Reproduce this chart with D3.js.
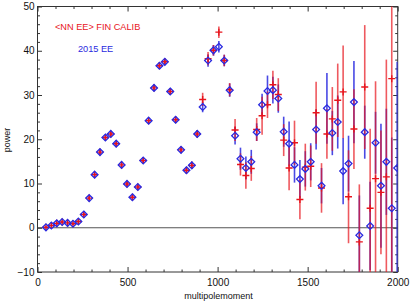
<!DOCTYPE html>
<html>
<head>
<meta charset="utf-8">
<script src="https://cdn.jsdelivr.net/npm/d3@7"></script>
<style>
  body { margin: 0; background: #fff; }
  svg { display: block; font-family: "Liberation Sans", Arial, sans-serif; }
</style>
</head>
<body>
<div id="chart"></div>
<script>
// bin centres (multipole moment)
var ell = [47, 77, 107, 137, 167, 197, 227, 257, 287, 317,
  347, 377, 407, 437, 467, 497, 527, 557, 587, 617,
  647, 677, 707, 737, 767, 797, 827, 857, 887, 917,
  947, 977, 1007, 1037, 1067, 1097, 1127, 1157, 1187, 1217,
  1247, 1277, 1307, 1337, 1367, 1397, 1427, 1457, 1487, 1517,
  1547, 1577, 1607, 1637, 1667, 1697, 1727, 1757, 1787, 1817,
  1847, 1877, 1907, 1937, 1967, 1997];

// 2015 EE (blue)
var blueVal = [0.1, 0.5, 1.0, 1.3, 1.1, 0.9, 1.4, 3.0, 6.7, 12.0,
  17.1, 20.4, 21.2, 19.0, 14.2, 9.9, 6.9, 9.2, 15.2, 24.2,
  31.6, 36.6, 37.5, 30.8, 24.4, 17.6, 13.0, 14.1, 21.2, 27.3,
  37.8, 40.1, 40.9, 37.8, 31.1, 20.8, 15.6, 13.5, 14.9, 21.6,
  27.8, 30.9, 31.1, 29.2, 21.7, 19.0, 14.2, 11.0, 13.3, 14.9,
  22.2, 9.5, 27.0, 21.4, 23.9, 12.8, 14.5, 28.4, -1.7, 21.6,
  0.4, 19.2, 9.5, 14.9, 4.4, 13.5];
var blueErr = [0.2, 0.2, 0.3, 0.3, 0.3, 0.3, 0.3, 0.4, 0.4, 0.5,
  0.5, 0.5, 0.5, 0.5, 0.5, 0.5, 0.5, 0.5, 0.6, 0.6,
  0.7, 0.7, 0.7, 0.7, 0.7, 0.7, 0.7, 0.8, 0.8, 1.2,
  1.4, 1.2, 1.3, 1.3, 1.5, 2.0, 2.5, 2.6, 2.7, 2.0,
  2.5, 3.5, 3.0, 3.2, 3.4, 5.0, 4.0, 4.3, 4.0, 4.2,
  4.5, 4.0, 8.0, 5.0, 6.0, 7.5, 6.3, 9.3, 9.0, 6.0,
  10, 7, 14, 12, 16, 24];

// <NN EE> FIN CALIB (red)
var redVal = [0.1, 0.5, 1.0, 1.3, 1.1, 0.9, 1.4, 3.0, 6.7, 12.0,
  17.1, 20.4, 21.2, 19.0, 14.2, 9.9, 6.9, 9.2, 15.2, 24.2,
  31.6, 36.6, 37.5, 30.8, 24.4, 17.6, 13.0, 14.1, 21.2, 29.0,
  38.2, 40.1, 44.2, 37.8, 31.2, 22.1, 14.3, 11.8, 13.4, 22.2,
  25.3, 27.8, 32.3, 30.1, 19.8, 13.5, 19.2, 6.4, 13.7, 13.9,
  26.0, 9.0, 21.2, 24.6, 28.8, 30.7, 7.0, 22.3, -3.2, 31.8,
  4.4, 11.1, 8.0, 11.5, 33.7, null];
var redErr = [0.2, 0.2, 0.3, 0.3, 0.3, 0.3, 0.3, 0.4, 0.4, 0.5,
  0.5, 0.5, 0.5, 0.5, 0.5, 0.5, 0.5, 0.5, 0.6, 0.6,
  0.7, 0.7, 0.7, 0.7, 0.7, 0.7, 0.7, 0.8, 0.8, 1.5,
  1.5, 1.2, 1.3, 1.3, 1.5, 2.5, 2.5, 3.0, 2.8, 2.6,
  4.3, 3.0, 3.2, 3.7, 3.6, 5.0, 5.0, 4.5, 5.3, 4.7,
  7.0, 5.6, 5.6, 7.2, 8.3, 10.5, 10.5, 9.0, 13, 14,
  18, 22, 14, 26.5, 45, null];

var yTicks = [-10, 0, 10, 20, 30, 40, 50];
var xTicks = [0, 500, 1000, 1500, 2000];

var width = 415, height = 308;
var margin = { top: 6.5, right: 17.3, bottom: 36, left: 37.5 };
var plotW = width - margin.left - margin.right,
  plotH = height - margin.top - margin.bottom;

var red = "#e8141c", blue = "#2a2ae0";

var x = d3.scaleLinear().domain([0, 2000]).range([0, plotW]);
var y = d3.scaleLinear().domain([-10, 50]).range([plotH, 0]);

var svg = d3.select("#chart").append("svg")
  .attr("width", width)
  .attr("height", height)
  .append("g")
  .attr("transform", "translate(" + margin.left + "," + margin.top + ")");

svg.append("clipPath").attr("id", "plotclip")
  .append("rect").attr("width", plotW).attr("height", plotH);

// zero line
svg.append("line")
  .attr("x1", 0).attr("x2", plotW)
  .attr("y1", y(0)).attr("y2", y(0))
  .attr("stroke", "#555").attr("stroke-width", 1);

var minorY = d3.range(-10, 51, 2).filter(function(d) { return d % 10 !== 0; });
var minorX = d3.range(0, 2001, 100).filter(function(d) { return d % 500 !== 0; });

function styleAxis(g) {
  g.select(".domain").remove();
  g.selectAll(".tick line").attr("stroke", "#333");
  g.selectAll("text").attr("fill", "#111").attr("font-size", 10);
}

svg.append("g")
  .call(d3.axisLeft(y).tickValues(yTicks).tickSize(-4.5).tickPadding(3)
    .tickFormat(function(d) { return d < 0 ? "\u2212" + Math.abs(d) : d; }))
  .call(styleAxis);
svg.append("g")
  .call(d3.axisLeft(y).tickValues(minorY).tickSize(-2.5).tickFormat(""))
  .call(styleAxis);
svg.append("g").attr("transform", "translate(" + plotW + ",0)")
  .call(d3.axisRight(y).tickValues(yTicks).tickSize(-4.5).tickFormat(""))
  .call(styleAxis);
svg.append("g").attr("transform", "translate(" + plotW + ",0)")
  .call(d3.axisRight(y).tickValues(minorY).tickSize(-2.5).tickFormat(""))
  .call(styleAxis);

svg.append("g").attr("transform", "translate(0," + plotH + ")")
  .call(d3.axisBottom(x).tickValues(xTicks).tickSize(-5).tickPadding(7)
    .tickFormat(d3.format("d")))
  .call(styleAxis);
svg.append("g").attr("transform", "translate(0," + plotH + ")")
  .call(d3.axisBottom(x).tickValues(minorX).tickSize(-2.5).tickFormat(""))
  .call(styleAxis);
svg.append("g")
  .call(d3.axisTop(x).tickValues(xTicks).tickSize(-5).tickFormat(""))
  .call(styleAxis);
svg.append("g")
  .call(d3.axisTop(x).tickValues(minorX).tickSize(-2.5).tickFormat(""))
  .call(styleAxis);

// frame
svg.append("rect")
  .attr("width", plotW).attr("height", plotH)
  .attr("fill", "none").attr("stroke", "#333").attr("stroke-width", 1);

var idx = d3.range(ell.length);
var marks = svg.append("g").attr("clip-path", "url(#plotclip)");

// blue error bars
marks.append("g").selectAll("line")
  .data(idx)
  .join("line")
  .attr("x1", function(i) { return x(ell[i]); })
  .attr("x2", function(i) { return x(ell[i]); })
  .attr("y1", function(i) { return y(blueVal[i] - blueErr[i]); })
  .attr("y2", function(i) { return y(blueVal[i] + blueErr[i]); })
  .attr("stroke", blue).attr("stroke-width", 1.6).attr("opacity", 0.85);

var redIdx = idx.filter(function(i) { return redVal[i] !== null; });

// red error bars
marks.append("g").selectAll("line")
  .data(redIdx)
  .join("line")
  .attr("x1", function(i) { return x(ell[i]); })
  .attr("x2", function(i) { return x(ell[i]); })
  .attr("y1", function(i) { return y(redVal[i] - redErr[i]); })
  .attr("y2", function(i) { return y(redVal[i] + redErr[i]); })
  .attr("stroke", red).attr("stroke-width", 1.6).attr("opacity", 0.7);

// red crosses
marks.append("g").selectAll("path")
  .data(redIdx)
  .join("path")
  .attr("d", function(i) {
    var cx = x(ell[i]), cy = y(redVal[i]);
    return "M" + (cx - 3.5) + "," + cy + "H" + (cx + 3.5) +
      "M" + cx + "," + (cy - 3.5) + "V" + (cy + 3.5);
  })
  .attr("stroke", red).attr("stroke-width", 1.4).attr("fill", "none");

// blue diamonds
marks.append("g").selectAll("path")
  .data(idx)
  .join("path")
  .attr("d", function(i) {
    var cx = x(ell[i]), cy = y(blueVal[i]), r = 3.4;
    return "M" + cx + "," + (cy - r) + "L" + (cx + r) + "," + cy +
      "L" + cx + "," + (cy + r) + "L" + (cx - r) + "," + cy + "Z";
  })
  .attr("stroke", blue).attr("stroke-width", 1.3).attr("fill", "none");

// legend
svg.append("text")
  .attr("x", 55 - margin.left).attr("y", 29.5 - margin.top)
  .attr("fill", red).attr("font-size", 9.2)
  .text("<NN EE> FIN CALIB");
svg.append("text")
  .attr("x", 78 - margin.left).attr("y", 52 - margin.top)
  .attr("fill", blue).attr("font-size", 9.2)
  .text("2015 EE");

// axis titles
svg.append("text")
  .attr("x", plotW / 2 + 1).attr("y", plotH + 27)
  .attr("text-anchor", "middle").attr("font-size", 9).attr("fill", "#111")
  .text("multipolemoment");
svg.append("text")
  .attr("transform", "translate(" + (10 - margin.left) + "," + (140 - margin.top) + ") rotate(-90)")
  .attr("text-anchor", "middle").attr("font-size", 9).attr("fill", "#111")
  .text("power");
</script>
</body>
</html>
